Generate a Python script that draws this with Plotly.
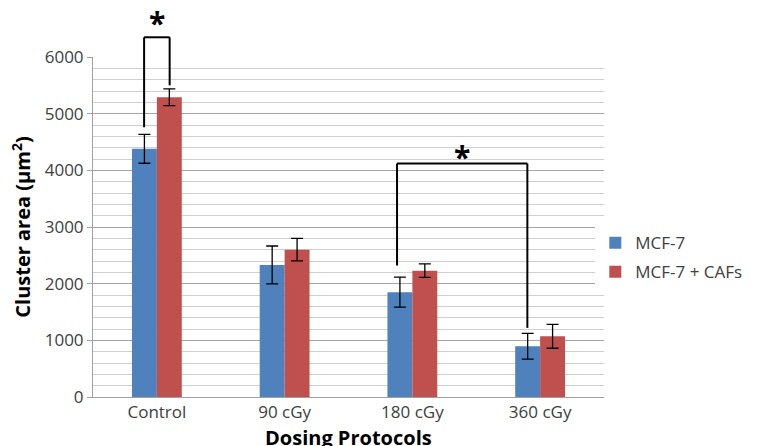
import plotly.graph_objects as go

categories = ["Control", "90 cGy", "180 cGy", "360 cGy"]
mcf7 = [4380, 2330, 1850, 895]
mcf7_err = [255, 335, 265, 228]
mcf7_caf = [5290, 2600, 2230, 1070]
mcf7_caf_err = [148, 198, 120, 210]
series_names = ["MCF-7", "MCF-7 + CAFs"]
y_ticks = [0, 1000, 2000, 3000, 4000, 5000, 6000]
x_title = "Dosing Protocols"
y_title = "Cluster area (µm<sup>2</sup>)"

FONT = "Open Sans"
fig = go.Figure()
fig.add_trace(go.Bar(
    x=categories, y=mcf7, name=series_names[0], legendgroup="a",
    marker=dict(color="#4f81bd", line=dict(width=0)),
    error_y=dict(type="data", array=mcf7_err, color="#000000", thickness=1.3, width=6),
))
fig.add_trace(go.Bar(
    x=categories, y=mcf7_caf, name=series_names[1], legendgroup="b",
    marker=dict(color="#c0504d", line=dict(width=0)),
    error_y=dict(type="data", array=mcf7_caf_err, color="#000000", thickness=1.3, width=6),
))

# significance brackets
line = dict(color="#000000", width=2)
# Control: MCF-7 vs MCF-7 + CAFs
top_paper = 1.058
fig.add_shape(type="line", xref="x", yref="y", x0=-0.1, x1=-0.1, y0=4760, y1=6000, line=line)
fig.add_shape(type="line", xref="x", yref="paper", x0=-0.1, x1=-0.1, y0=1.0, y1=top_paper, line=line)
fig.add_shape(type="line", xref="x", yref="y", x0=0.1, x1=0.1, y0=5500, y1=6000, line=line)
fig.add_shape(type="line", xref="x", yref="paper", x0=0.1, x1=0.1, y0=1.0, y1=top_paper, line=line)
fig.add_shape(type="line", xref="x", yref="paper", x0=-0.1, x1=0.1, y0=top_paper, y1=top_paper, line=line)
fig.add_annotation(x=0, xref="x", y=1.1, yref="paper", yanchor="middle", text="<b>*</b>",
                   showarrow=False, font=dict(family=FONT, size=30, color="#000000"))
# 180 vs 360
fig.add_shape(type="line", xref="x", yref="y", x0=1.88, x1=1.88, y0=2320, y1=4120, line=line)
fig.add_shape(type="line", xref="x", yref="y", x0=1.88, x1=2.9, y0=4120, y1=4120, line=line)
fig.add_shape(type="line", xref="x", yref="y", x0=2.9, x1=2.9, y0=1220, y1=4120, line=line)
fig.add_annotation(x=2.39, xref="x", y=4240, yref="y", text="<b>*</b>", showarrow=False,
                   font=dict(family=FONT, size=30, color="#000000"))

# x axis title
fig.add_annotation(x=0.5, xref="paper", y=-0.12, yref="paper", yanchor="middle",
                   text="<b>" + x_title + "</b>", showarrow=False,
                   font=dict(family=FONT, size=20, color="#000000"))

fig.update_layout(
    width=764, height=446,
    margin=dict(l=93, r=160, t=57, b=49, autoexpand=False),
    paper_bgcolor="white", plot_bgcolor="white",
    barmode="group", bargap=0.61, bargroupgap=0,
    font=dict(family=FONT, size=16, color="#404040"),
    showlegend=True,
    legend=dict(x=0.983, y=0.41, xanchor="left", yanchor="middle",
                font=dict(family=FONT, size=17, color="#404040"),
                itemwidth=30, tracegroupgap=4),
    xaxis=dict(
        automargin=False,
        showline=True, linecolor="#a0a0a0", linewidth=1,
        ticks="", tickfont=dict(family=FONT, size=17, color="#404040"),
    ),
    yaxis=dict(
        automargin=False,
        range=[0, 6000], tickvals=y_ticks,
        showline=True, linecolor="#a0a0a0", linewidth=1,
        ticks="outside", ticklen=5, tickcolor="#a0a0a0",
        showgrid=True, gridcolor="#a6a6a6", gridwidth=1,
        minor=dict(dtick=200, showgrid=True, gridcolor="#d0d0d0", gridwidth=1),
        zeroline=False,
        tickfont=dict(family=FONT, size=17, color="#404040"),
        title=dict(text="<b>" + y_title + "</b>", standoff=8,
                   font=dict(family=FONT, size=20, color="#000000")),
    ),
)
fig.write_html("out.html", config={"displayModeBar": False},
               post_script="document.body.style.margin='0px';")
